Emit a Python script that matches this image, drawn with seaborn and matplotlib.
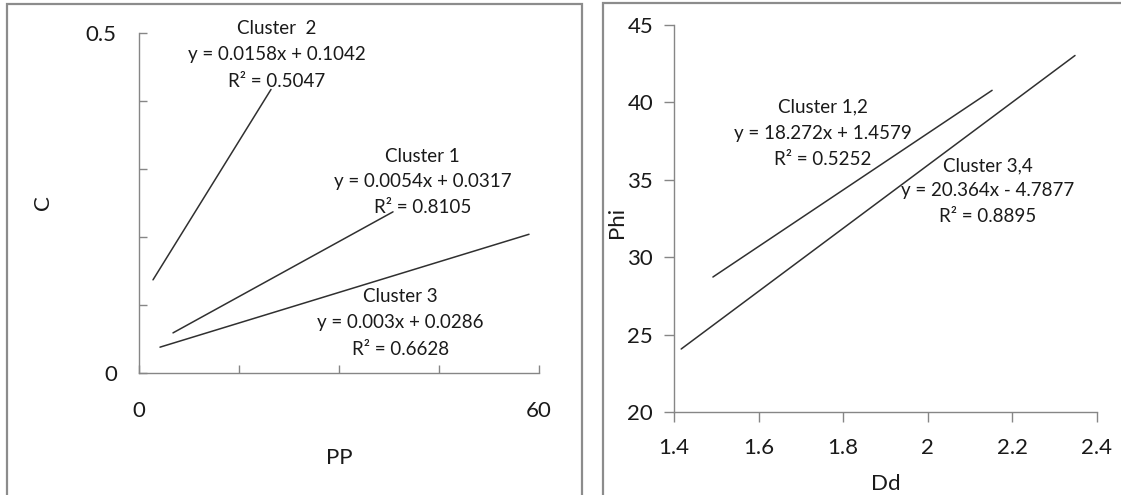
import numpy as np
import pandas as pd
import matplotlib
matplotlib.use('Agg')
from matplotlib import pyplot as plt
from matplotlib.patches import Rectangle
import seaborn as sns

sns.set_style('white')
plt.rcParams['font.family'] = ['Lato', 'DejaVu Sans']

# left panel: C vs PP trend lines (end points)
pp_clusters = ['Cluster 2', 'Cluster 1', 'Cluster 3']
pp_x = [[2.1, 19.8], [5.1, 38.1], [3.15, 58.5]]
pp_y = [[0.137, 0.417], [0.059, 0.237], [0.038, 0.204]]
pp_text = [['Cluster  2', 'y = 0.0158x + 0.1042', 'R² = 0.5047'],
           ['Cluster 1', 'y = 0.0054x + 0.0317', 'R² = 0.8105'],
           ['Cluster 3', 'y = 0.003x + 0.0286', 'R² = 0.6628']]
pp_text_x = [20.7, 42.5, 39.2]
pp_text_y = [[0.506, 0.468, 0.429], [0.319, 0.281, 0.243], [0.112, 0.074, 0.035]]

# right panel: Phi vs Dd
dd_clusters = ['Cluster 1,2', 'Cluster 3,4']
dd_x = [[1.492, 2.152], [1.417, 2.348]]
dd_y = [[28.72, 40.78], [24.07, 43.03]]
dd_text = [['Cluster 1,2', 'y = 18.272x + 1.4579', 'R² = 0.5252'],
           ['Cluster 3,4', 'y = 20.364x - 4.7877', 'R² = 0.8895']]
dd_text_x = [1.752, 2.142]
dd_text_y = [[39.70, 38.02, 36.34], [35.89, 34.28, 32.60]]

gray = '#868686'
line_c = '#303030'
txt_c = '#1a1a1a'

def long_df(names, xs, ys):
    rows = []
    for n, xv, yv in zip(names, xs, ys):
        for a, b in zip(xv, yv):
            rows.append({'cluster': n, 'x': a, 'y': b})
    return pd.DataFrame(rows)

fig = plt.figure(figsize=(11.21, 4.95), dpi=100)

# panel frames
fig.add_artist(Rectangle((7/1121, -0.05), 575/1121, 1.05 - 4/495, transform=fig.transFigure,
                         fill=False, edgecolor='#8c8c8c', lw=1.6))
fig.add_artist(Rectangle((603/1121, -0.05), 0.6, 1.05 - 3/495, transform=fig.transFigure,
                         fill=False, edgecolor='#8c8c8c', lw=1.6))

ax1 = fig.add_axes([139/1121, 1 - 373/495, 400/1121, 340/495])
ax2 = fig.add_axes([674/1121, 1 - 412/495, 423/1121, 387/495])

df1 = long_df(pp_clusters, pp_x, pp_y)
sns.lineplot(data=df1, x='x', y='y', hue='cluster', palette=[line_c]*3,
             legend=False, sort=False, lw=1.1, ax=ax1)
df2 = long_df(dd_clusters, dd_x, dd_y)
sns.lineplot(data=df2, x='x', y='y', hue='cluster', palette=[line_c]*2,
             legend=False, sort=False, lw=1.1, ax=ax2)

for ax in (ax1, ax2):
    for s in ['top', 'right']:
        ax.spines[s].set_visible(False)
    for s in ['left', 'bottom']:
        ax.spines[s].set_color(gray)
        ax.spines[s].set_linewidth(1)

# left axes: inward ticks, labels only at the ends
ax1.set_xlim(0, 60)
ax1.set_ylim(0, 0.5)
ax1.set_xticks([0, 15, 30, 45, 60])
ax1.set_xticklabels(['0', '', '', '', '60'])
ax1.set_yticks([0, 0.1, 0.2, 0.3, 0.4, 0.5])
ax1.set_yticklabels(['0', '', '', '', '', '0.5'])
ax1.tick_params(axis='x', bottom=True, direction='in', length=6, width=1, color=gray,
                pad=20, labelsize=16, labelcolor=txt_c)
ax1.tick_params(axis='y', left=True, direction='in', length=6, width=1, color=gray,
                pad=16, labelsize=16, labelcolor=txt_c)
ax1.set_xlabel('PP', fontsize=16, color=txt_c)
ax1.set_ylabel('C', fontsize=16, color=txt_c)
ax1.xaxis.set_label_coords(0.5, -0.22)
ax1.yaxis.set_label_coords(-0.215, 0.5)

ax2.set_xlim(1.4, 2.4)
ax2.set_ylim(20, 45)
ax2.set_xticks([1.4, 1.6, 1.8, 2.0, 2.2, 2.4])
ax2.set_xticklabels(['1.4', '1.6', '1.8', '2', '2.2', '2.4'])
ax2.set_yticks([20, 25, 30, 35, 40, 45])
ax2.tick_params(axis='both', bottom=True, left=True, direction='out', length=7, width=1,
                color=gray, labelsize=16, labelcolor=txt_c)
ax2.tick_params(axis='x', pad=12)
ax2.tick_params(axis='y', pad=8)
ax2.set_xlabel('Dd', fontsize=16, color=txt_c)
ax2.set_ylabel('Phi', fontsize=16, color=txt_c)
ax2.xaxis.set_label_coords(0.5, -0.16)
ax2.yaxis.set_label_coords(-0.11, 0.49)

for lines, tx, tys in zip(pp_text, pp_text_x, pp_text_y):
    for s, ty in zip(lines, tys):
        ax1.text(tx, ty, s, ha='center', va='center', fontsize=13.5, color=txt_c)
for lines, tx, tys in zip(dd_text, dd_text_x, dd_text_y):
    for s, ty in zip(lines, tys):
        ax2.text(tx, ty, s, ha='center', va='center', fontsize=13.5, color=txt_c)

fig.savefig('out.png', dpi=100)
